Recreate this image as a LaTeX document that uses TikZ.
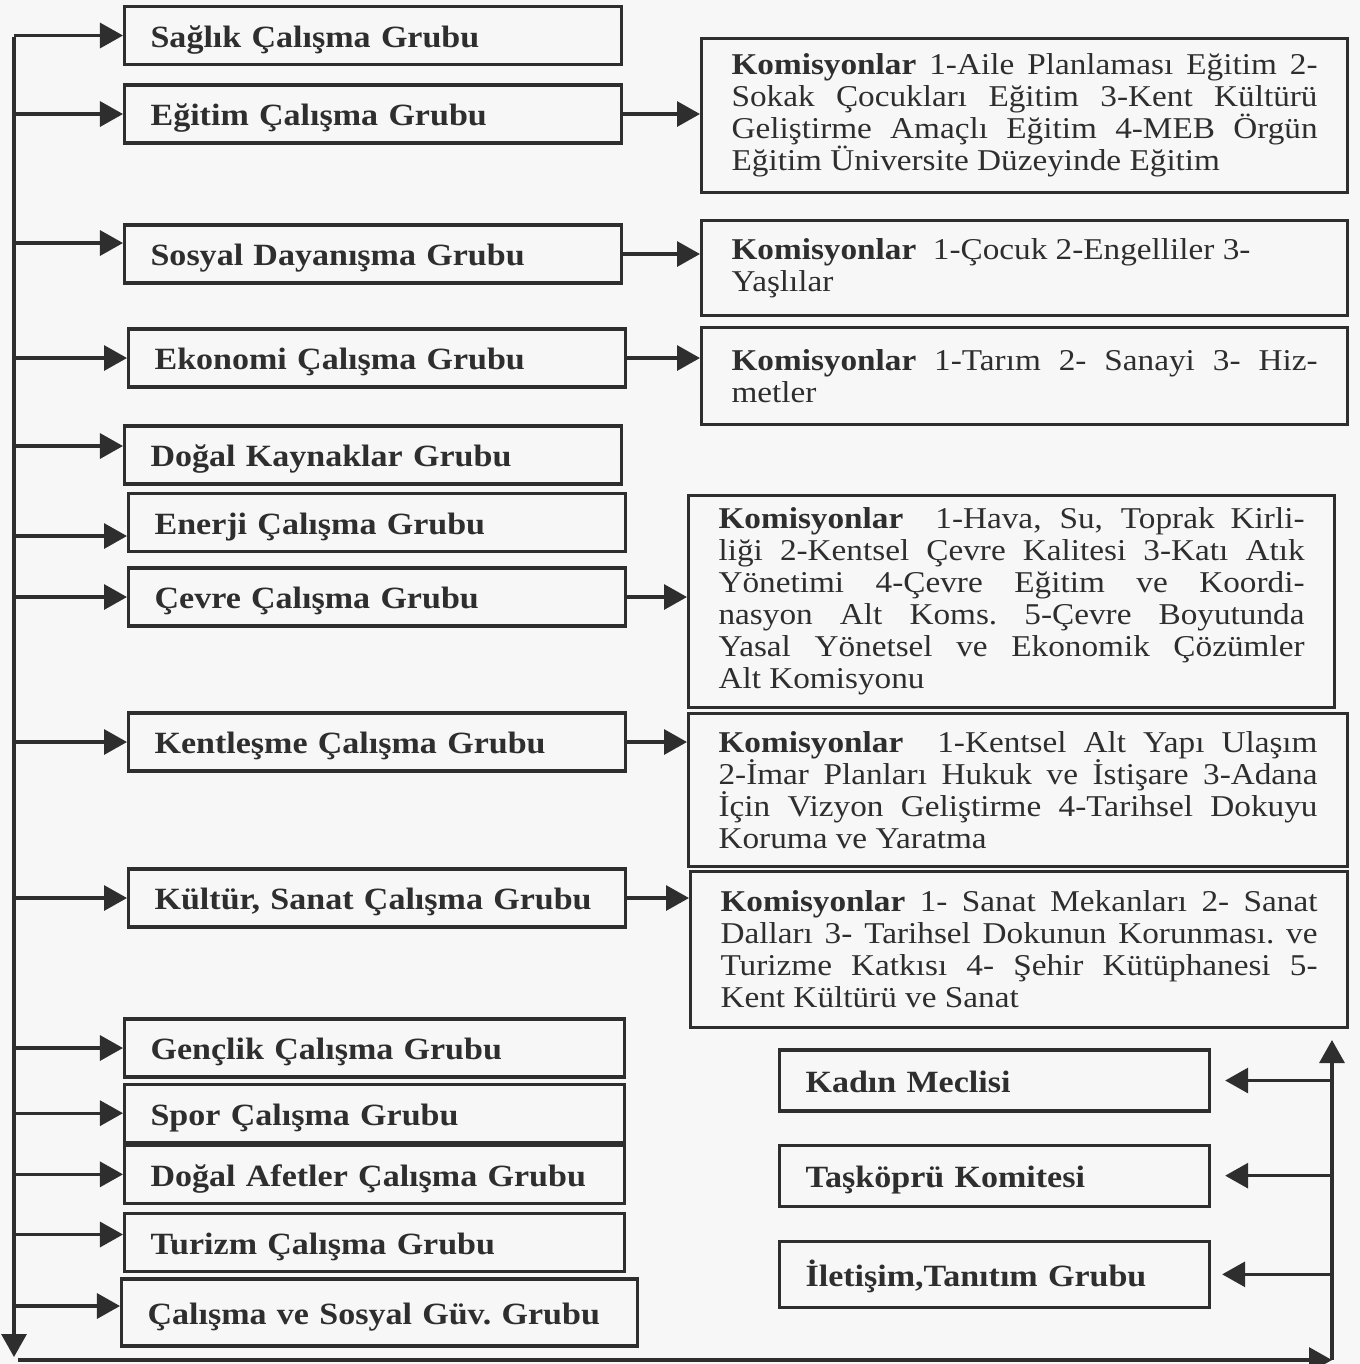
\documentclass[tikz,border=0pt]{standalone}
\usepackage{fontspec}
\setmainfont{Liberation Serif}[FakeStretch=1.1]
\usepackage{tikz}
\usetikzlibrary{arrows.meta, positioning}
\hyphenpenalty=10000
\exhyphenpenalty=10000

\begin{document}
\begin{tikzpicture}[
    grup/.style={draw=black!82, line width=0.9pt, rectangle, anchor=west, text width=4.45cm, inner xsep=0.26cm, inner ysep=0pt, minimum height=0.58cm, text height=7.8pt, text depth=1pt, align=left, text=black!82, font=\fontsize{8.8}{10}\selectfont\bfseries},
    komisyon/.style={draw=black!82, line width=0.9pt, rectangle, anchor=north west, text width=5.86cm, inner xsep=0.3cm, align=justify, text=black!82, font=\fontsize{8.6}{9.1}\selectfont},
    ok/.style={draw=black!82, line width=0.9pt, -{Triangle[length=2.3mm, width=2.5mm]}}
]
    % Background
    \fill[black!3, use as bounding box] (0,0) rectangle (13.6,-13.64);

    % Nodes
    \node[grup] (saglik) at (1.23,-0.355) {Sağlık Çalışma Grubu};
    \node[grup] (egitim) at (1.23,-1.14) {Eğitim Çalışma Grubu};
    \node[grup] (sosyal) at (1.23,-2.54) {Sosyal Dayanışma Grubu};
    \node[grup] (ekonomi) at (1.27,-3.58) {Ekonomi Çalışma Grubu};
    \node[grup] (kaynak) at (1.23,-4.55) {Doğal Kaynaklar Grubu};
    \node[grup] (enerji) at (1.27,-5.225) {Enerji Çalışma Grubu};
    \node[grup] (cevre) at (1.27,-5.97) {Çevre Çalışma Grubu};
    \node[grup] (kent) at (1.27,-7.42) {Kentleşme Çalışma Grubu};
    \node[grup] (kultur) at (1.27,-8.98) {Kültür, Sanat Çalışma Grubu};
    \node[grup, text width=4.48cm] (genclik) at (1.23,-10.48) {Gençlik Çalışma Grubu};
    \node[grup, text width=4.48cm, below=0.04cm of genclik] (spor) {Spor Çalışma Grubu};
    \node[grup, text width=4.48cm, below=0cm of spor] (afet) {Doğal Afetler Çalışma Grubu};
    \node[grup, text width=4.48cm, below=0.07cm of afet] (turizm) {Turizm Çalışma Grubu};
    \node[grup, text width=4.64cm, minimum height=0.67cm] (calisma) at (1.20,-13.125) {Çalışma ve Sosyal Güv.\ Grubu};

    \node[komisyon, minimum height=1.54cm] (egitimK) at (7.00,-0.37) {\textbf{Komisyonlar} 1-Aile Planlaması Eğitim 2-\linebreak Sokak Çocukları Eğitim 3-Kent Kültürü\linebreak Geliştirme Amaçlı Eğitim 4-MEB Örgün\linebreak Eğitim Üniversite Düzeyinde Eğitim};
    \node[komisyon, minimum height=0.95cm] (sosyalK) at (7.00,-2.19) {\textbf{Komisyonlar}\ \ 1-Çocuk 2-Engelliler 3-\newline Yaşlılar};
    \node[komisyon, minimum height=0.97cm] (ekonomiK) at (7.00,-3.26) {\textbf{Komisyonlar} 1-Tarım 2- Sanayi 3- Hiz-\linebreak metler};
    \node[komisyon, minimum height=2.12cm] (cevreK) at (6.87,-4.94) {\textbf{Komisyonlar}\ \ 1-Hava, Su, Toprak Kirli-\linebreak liği 2-Kentsel Çevre Kalitesi 3-Katı Atık\linebreak Yönetimi 4-Çevre Eğitim ve Koordi-\linebreak nasyon Alt Koms.\ 5-Çevre Boyutunda\linebreak Yasal Yönetsel ve Ekonomik Çözümler\linebreak Alt Komisyonu};
    \node[komisyon, text width=5.99cm, minimum height=1.53cm] (kentK) at (6.87,-7.12) {\textbf{Komisyonlar}\ \ 1-Kentsel Alt Yapı Ulaşım\linebreak 2-İmar Planları Hukuk ve İstişare 3-Adana\linebreak İçin Vizyon Geliştirme 4-Tarihsel Dokuyu\linebreak Koruma ve Yaratma};
    \node[komisyon, text width=5.97cm, minimum height=1.56cm] (kulturK) at (6.89,-8.70) {\textbf{Komisyonlar} 1- Sanat Mekanları 2- Sanat\linebreak Dalları 3- Tarihsel Dokunun Korunması.\ ve\linebreak Turizme Katkısı 4- Şehir Kütüphanesi 5-\linebreak Kent Kültürü ve Sanat};

    \node[grup, text width=3.78cm, minimum height=0.61cm] (kadin) at (7.78,-10.805) {Kadın Meclisi};
    \node[grup, text width=3.78cm, minimum height=0.61cm, below=0.31cm of kadin] (taskopru) {Taşköprü Komitesi};
    \node[grup, text width=3.78cm, minimum height=0.66cm, below=0.32cm of taskopru] (iletisim) {İletişim,Tanıtım Grubu};

    % Trunk lines
    \coordinate (sol) at (0.14,-0.37);
    \coordinate (solalt) at (0.14,-13.57);
    \coordinate (altbas) at (0.18,-13.6);
    \coordinate (sagalt) at (13.32,-13.6);
    \coordinate (sagust) at (13.32,-10.4);
    \draw[ok] (sol) -- (solalt);
    \draw[ok] (altbas) -- (sagalt);
    \draw[ok] (sagalt) -- (sagust);

    % Arrows into the groups
    \draw[ok] (saglik.west -| sol) -- (saglik.west);
    \draw[ok] (egitim.west -| sol) -- (egitim.west);
    \draw[ok] ([yshift=1.1mm]sosyal.west -| sol) -- ([yshift=1.1mm]sosyal.west);
    \draw[ok] (ekonomi.west -| sol) -- (ekonomi.west);
    \draw[ok] ([yshift=0.9mm]kaynak.west -| sol) -- ([yshift=0.9mm]kaynak.west);
    \draw[ok] ([yshift=-1.35mm]enerji.west -| sol) -- ([yshift=-1.35mm]enerji.west);
    \draw[ok] (cevre.west -| sol) -- (cevre.west);
    \draw[ok] (kent.west -| sol) -- (kent.west);
    \draw[ok] (kultur.west -| sol) -- (kultur.west);
    \draw[ok] (genclik.west -| sol) -- (genclik.west);
    \draw[ok] (spor.west -| sol) -- (spor.west);
    \draw[ok] (afet.west -| sol) -- (afet.west);
    \draw[ok] ([yshift=0.8mm]turizm.west -| sol) -- ([yshift=0.8mm]turizm.west);
    \draw[ok] ([yshift=0.65mm]calisma.west -| sol) -- ([yshift=0.65mm]calisma.west);

    % Arrows to the commissions
    \draw[ok] (egitim.east) -- (egitim.east -| egitimK.west);
    \draw[ok] (sosyal.east) -- (sosyal.east -| sosyalK.west);
    \draw[ok] (ekonomi.east) -- (ekonomi.east -| ekonomiK.west);
    \draw[ok] (cevre.east) -- (cevre.east -| cevreK.west);
    \draw[ok] (kent.east) -- (kent.east -| kentK.west);
    \draw[ok] (kultur.east) -- (kultur.east -| kulturK.west);

    % Arrows from the right trunk
    \draw[ok] (kadin.east -| sagust) -- ([xshift=1.4mm]kadin.east);
    \draw[ok] (taskopru.east -| sagust) -- ([xshift=1.4mm]taskopru.east);
    \draw[ok] (iletisim.east -| sagust) -- ([xshift=1.1mm]iletisim.east);
\end{tikzpicture}
\end{document}
